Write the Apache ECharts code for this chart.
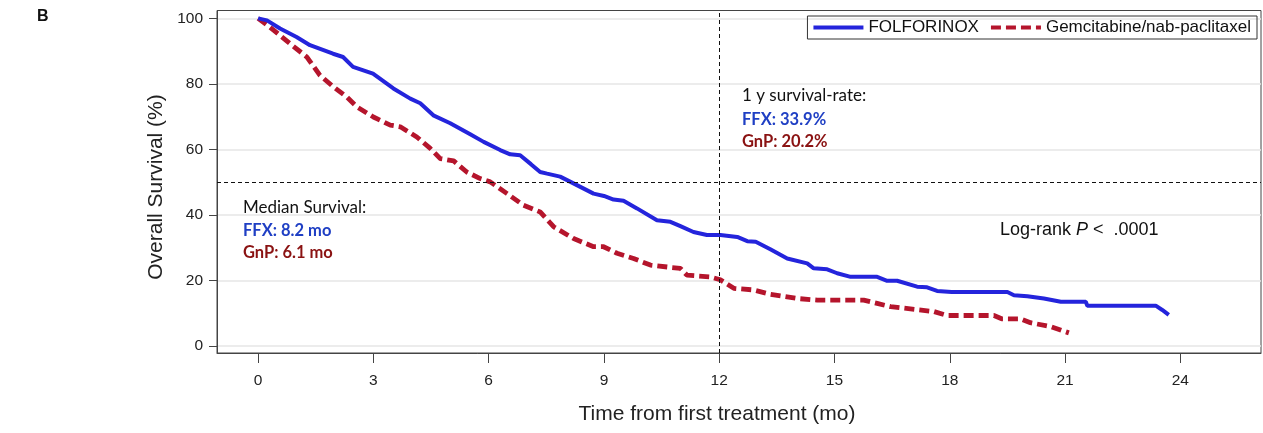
<!DOCTYPE html>
<html>
<head>
<meta charset="utf-8">
<script src="https://cdn.jsdelivr.net/npm/echarts@6/dist/echarts.min.js"></script>
<style>
html,body{margin:0;padding:0;background:#fff;}
#chart{width:1263px;height:433px;}
</style>
</head>
<body>
<div id="chart"></div>
<script>
// ---- data ----
const seriesNames = ['FOLFORINOX', 'Gemcitabine/nab-paclitaxel'];
const xTicks = [0, 3, 6, 9, 12, 15, 18, 21, 24];
const yTicks = [0, 20, 40, 60, 80, 100];
const ffxTime = [0,0.23,0.57,1.0,1.35,1.95,2.21,2.47,2.99,3.52,3.96,4.22,4.56,5.0,5.52,5.87,6.30,6.56,6.82,7.1,7.34,7.52,7.86,8.13,8.73,9.0,9.25,9.51,9.86,10.38,10.73,10.99,11.33,11.68,12.03,12.47,12.73,12.95,13.33,13.77,14.29,14.46,14.81,15.07,15.42,16.11,16.37,16.63,17.15,17.41,17.67,18.05,19.5,19.67,20.02,20.45,20.89,21.54,21.58,23.36,23.53,23.7];
const ffxSurv = [100,99.4,96.9,94.3,91.8,89.2,88.2,85.2,83.1,78.6,75.5,74.1,70.4,68.0,64.6,62.3,59.8,58.5,58.2,55.5,53.1,52.6,51.7,50.1,46.5,45.8,44.7,44.3,42.0,38.4,37.9,36.6,34.8,33.9,33.9,33.3,32.0,31.8,29.5,26.7,25.2,23.7,23.4,22.2,21.1,21.1,19.9,19.9,18.1,17.9,16.8,16.5,16.5,15.5,15.2,14.5,13.5,13.5,12.3,12.3,11.0,9.5];
const gnpTime = [0,0.31,0.57,0.83,1.27,1.61,1.96,2.31,2.57,3.0,3.44,3.70,4.13,4.48,4.74,5.09,5.43,5.78,6.04,6.48,6.9,7.34,7.69,8.21,8.73,8.99,9.34,9.77,10.21,10.73,10.99,11.16,11.77,12.03,12.38,12.9,13.33,14.03,14.55,15.76,16.11,16.46,17.59,17.93,19.15,19.35,19.84,20.1,20.63,21.1];
const gnpSurv = [100,97.3,94.8,92.3,88.2,82.6,79.1,76.0,73.0,69.9,67.4,66.9,63.8,60.3,57.2,56.5,53.1,51.1,50.1,46.5,43.0,40.9,36.4,32.8,30.3,30.3,28.3,26.7,24.7,24.0,23.7,21.6,21.1,20.2,17.6,17.1,15.8,14.5,14.0,14.0,13.0,12.0,10.5,9.3,9.3,8.3,8.3,7.1,5.9,4.0];
const medianLabels = ['Median Survival:', 'FFX: 8.2 mo', 'GnP: 6.1 mo'];
const yearLabels = ['1 y survival-rate:', 'FFX: 33.9%', 'GnP: 20.2%'];
const xTitle = 'Time from first treatment (mo)';
const yTitle = 'Overall Survival (%)';
const refMedian = 50;
const refYear = 12;

const ffxData = ffxTime.map((t, i) => [t, ffxSurv[i]]);
const gnpData = gnpTime.map((t, i) => [t, gnpSurv[i]]);

const BLUE = '#2424dc';
const RED = '#b5152c';
const TXT_BLUE = '#1f3fc4';
const TXT_RED = '#8a1212';
const ARIAL = "'Liberation Sans', Arial, sans-serif";
const CAL = "Lato, 'Open Sans', sans-serif";

const chart = echarts.init(document.getElementById('chart'), null, {renderer: 'canvas'});
chart.setOption({
  animation: false,
  backgroundColor: '#fff',
  grid: {left: 217, right: 2, top: 10.5, bottom: 80, show: true, borderColor: '#444', borderWidth: 1},
  legend: {
    right: 6, top: 16,
    data: seriesNames,
    itemWidth: 50, itemHeight: 16, itemGap: 10,
    padding: [3, 6, 3, 4],
    borderColor: '#333', borderWidth: 1,
    itemStyle: {opacity: 0},
    lineStyle: {width: 4},
    textStyle: {fontFamily: ARIAL, fontSize: 17, color: '#111'}
  },
  xAxis: {
    type: 'value', min: -1.07, max: 26.1,
    axisLine: {show: true, onZero: false, lineStyle: {color: '#444', width: 1}},
    axisTick: {show: true, length: 10, customValues: xTicks, lineStyle: {color: '#444'}},
    axisLabel: {customValues: xTicks, margin: 20, fontFamily: ARIAL, fontSize: 15.5, color: '#222'},
    splitLine: {show: false}
  },
  yAxis: {
    type: 'value', min: -2.14, max: 102.4,
    axisLine: {show: true, onZero: false, lineStyle: {color: '#444', width: 1}},
    axisTick: {show: true, length: 8, customValues: yTicks, lineStyle: {color: '#444'}},
    axisLabel: {customValues: yTicks, margin: 14, fontFamily: ARIAL, fontSize: 15.5, color: '#222'},
    splitLine: {show: true, lineStyle: {color: '#e6e6e6', width: 1.5}}
  },
  series: [
    {
      name: seriesNames[1], type: 'line', data: gnpData, symbol: 'none', z: 3,
      lineStyle: {color: RED, width: 4.8, type: [10, 5], cap: 'butt'},
      itemStyle: {color: RED}
    },
    {
      name: seriesNames[0], type: 'line', data: ffxData, symbol: 'none', z: 4,
      lineStyle: {color: BLUE, width: 4},
      itemStyle: {color: BLUE},
      markLine: {
        silent: true, symbol: ['none', 'none'], label: {show: false},
        lineStyle: {color: '#111', type: [4, 3], width: 1},
        data: [{yAxis: refMedian}, {xAxis: refYear}]
      }
    }
  ],
  graphic: [
    {type: 'text', left: 37, top: 9, style: {text: 'B', font: "bold 16px 'Liberation Sans', Arial", fill: '#111'}},
    {type: 'text', x: 717, y: 414, style: {text: xTitle, font: "21px 'Liberation Sans', Arial", fill: '#222', align: 'center', verticalAlign: 'middle'}},
    {type: 'text', x: 156, y: 187, rotation: Math.PI / 2, style: {text: yTitle, font: "21px 'Liberation Sans', Arial", fill: '#222', align: 'center', verticalAlign: 'middle'}},
    {type: 'text', left: 243, top: 199, style: {text: medianLabels[0], font: "17px " + CAL, fill: '#111'}},
    {type: 'text', left: 243, top: 222, style: {text: medianLabels[1], font: "bold 16.5px " + CAL, fill: TXT_BLUE}},
    {type: 'text', left: 243, top: 244, style: {text: medianLabels[2], font: "bold 16.5px " + CAL, fill: TXT_RED}},
    {type: 'text', left: 742, top: 87, style: {text: yearLabels[0], font: "17px " + CAL, fill: '#111'}},
    {type: 'text', left: 742, top: 111, style: {text: yearLabels[1], font: "bold 16.5px " + CAL, fill: TXT_BLUE}},
    {type: 'text', left: 742, top: 133, style: {text: yearLabels[2], font: "bold 16.5px " + CAL, fill: TXT_RED}},
    {type: 'text', left: 1000, top: 221, style: {
      text: '{a|Log-rank }{b|P}{a| <  .0001}',
      rich: {
        a: {fontFamily: ARIAL, fontSize: 18, fill: '#111'},
        b: {fontFamily: ARIAL, fontSize: 18, fontStyle: 'italic', fill: '#111'}
      }
    }}
  ]
});
</script>
</body>
</html>
